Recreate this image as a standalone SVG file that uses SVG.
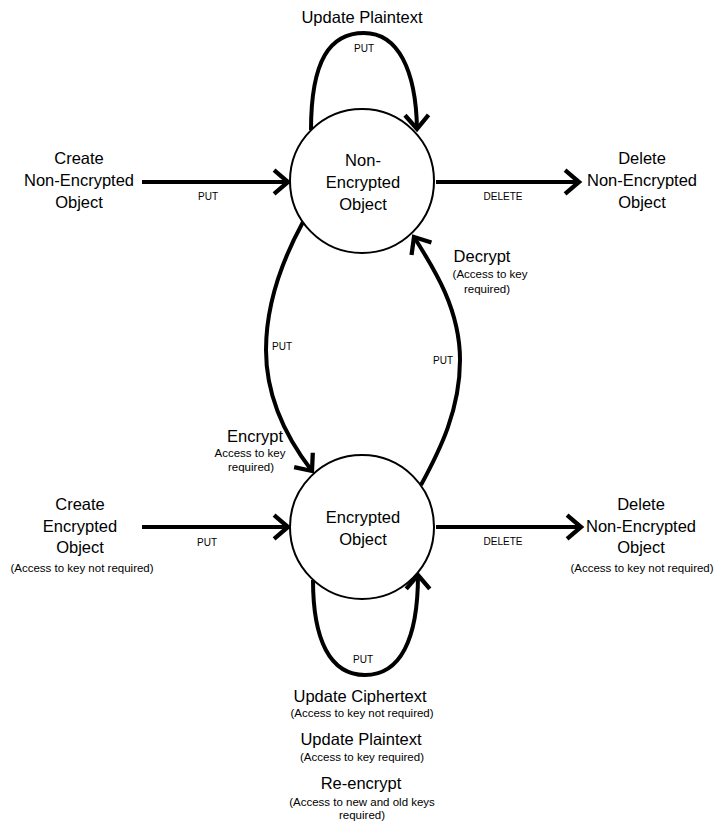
<svg xmlns="http://www.w3.org/2000/svg" width="717" height="824" viewBox="0 0 717 824">
<defs>
<style>
text{font-family:"Liberation Sans",Arial,sans-serif;fill:#000;text-anchor:middle}
.b{font-size:16.5px}
.s{font-size:11.5px}
.l{font-size:10px}
.st{fill:#fff;stroke:#000;stroke-width:2}
.c{fill:none;stroke:#000;stroke-width:4}
</style>
<marker id="ah" markerUnits="userSpaceOnUse" markerWidth="30" markerHeight="30" viewBox="-16 -14 20 28" refX="0" refY="0" orient="auto">
<path d="M-13,-11 L0,0 L-13,11" fill="none" stroke="#000" stroke-width="4"/>
</marker>
</defs>
<rect width="717" height="824" fill="#fff"/>
<g id="connectors">
<path class="c" d="M311,130 C311,60 330,33 364,33 C398,33 416,70 417,129" marker-end="url(#ah)"/>
<path class="c" d="M142,182 L288,182" marker-end="url(#ah)"/>
<path class="c" d="M436,182 L579,182" marker-end="url(#ah)"/>
<path class="c" d="M303,222 C285,255 266,300 266,350 C266,400 288,440 312,471" marker-end="url(#ah)"/>
<path class="c" d="M421,485 C440,450 460,410 460,360 C460,310 435,270 414,237" marker-end="url(#ah)"/>
<path class="c" d="M142,527 L288,527" marker-end="url(#ah)"/>
<path class="c" d="M436,527 L581,527" marker-end="url(#ah)"/>
<path class="c" d="M313,580 C313,640 330,675 365,675 C400,675 418,640 418,575" marker-end="url(#ah)"/>
<text class="l" x="364" y="52">PUT</text>
<text class="l" x="208" y="200">PUT</text>
<text class="l" x="503" y="200">DELETE</text>
<text class="l" x="282" y="350">PUT</text>
<text class="l" x="443" y="364">PUT</text>
<text class="l" x="207" y="546">PUT</text>
<text class="l" x="503" y="545">DELETE</text>
<text class="l" x="363" y="663">PUT</text>
</g>
<g id="non-encrypted">
<circle class="st" cx="362" cy="181" r="72"/>
<text class="b" x="363" y="166">Non-</text>
<text class="b" x="363" y="188">Encrypted</text>
<text class="b" x="363" y="210">Object</text>
</g>
<g id="encrypted">
<circle class="st" cx="362" cy="527" r="72"/>
<text class="b" x="363" y="523">Encrypted</text>
<text class="b" x="363" y="545">Object</text>
</g>
<g id="update-plaintext-top">
<text class="b" x="362" y="23">Update Plaintext</text>
</g>
<g id="create-non-encrypted">
<text class="b" x="79" y="164">Create</text>
<text class="b" x="79" y="186">Non-Encrypted</text>
<text class="b" x="79" y="208">Object</text>
</g>
<g id="delete-non-encrypted-top">
<text class="b" x="642" y="164">Delete</text>
<text class="b" x="642" y="186">Non-Encrypted</text>
<text class="b" x="642" y="208">Object</text>
</g>
<g id="decrypt-label">
<text class="b" x="482" y="262">Decrypt</text>
<text class="s" x="490" y="278">(Access to key</text>
<text class="s" x="487" y="293">required)</text>
</g>
<g id="encrypt-label">
<text class="b" x="255" y="442">Encrypt</text>
<text class="s" x="250" y="457">Access to key</text>
<text class="s" x="251" y="471">required)</text>
</g>
<g id="create-encrypted">
<text class="b" x="80" y="510">Create</text>
<text class="b" x="80" y="532">Encrypted</text>
<text class="b" x="80" y="553">Object</text>
<text class="s" x="82" y="572">(Access to key not required)</text>
</g>
<g id="delete-non-encrypted-bottom">
<text class="b" x="641" y="510">Delete</text>
<text class="b" x="641" y="532">Non-Encrypted</text>
<text class="b" x="641" y="553">Object</text>
<text class="s" x="642" y="572">(Access to key not required)</text>
</g>
<g id="bottom-labels">
<text class="b" x="360" y="702">Update Ciphertext</text>
<text class="s" x="362" y="717">(Access to key not required)</text>
<text class="b" x="361" y="745">Update Plaintext</text>
<text class="s" x="362" y="761">(Access to key required)</text>
<text class="b" x="361" y="789">Re-encrypt</text>
<text class="s" x="362" y="806">(Access to new and old keys</text>
<text class="s" x="362" y="819">required)</text>
</g>
</svg>
